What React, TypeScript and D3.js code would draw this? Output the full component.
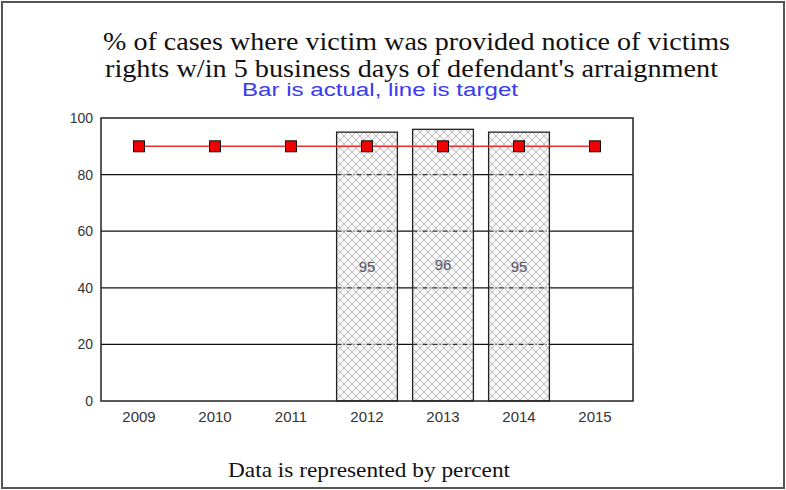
import React, { useEffect, useRef } from 'react';
import * as d3 from 'd3';

// chart data
const years = ['2009', '2010', '2011', '2012', '2013', '2014', '2015'];
const actual: (number | null)[] = [null, null, null, 95, 96, 95, null];
const target = [90, 90, 90, 90, 90, 90, 90];
const yTicks = [0, 20, 40, 60, 80, 100];

const titleLines = [
  '% of cases where victim was provided notice of victims',
  "rights w/in 5 business days of defendant's arraignment",
];
const subtitle = 'Bar is actual, line is target';
const footer = 'Data is represented by percent';

const App = () => {
  const svgRef = useRef<SVGSVGElement>(null);

  useEffect(() => {
    const svg = d3.select(svgRef.current);
    svg.selectAll('*').remove();

    const W = 786, H = 490;
    const plot = { left: 101, right: 633, top: 118, bottom: 401 };
    const sans = '"Liberation Sans", Arial, sans-serif';
    const serif = '"Liberation Serif", "Times New Roman", serif';

    // outer frame
    svg.append('rect')
      .attr('x', 2).attr('y', 2).attr('width', W - 4).attr('height', H - 4)
      .attr('fill', 'white').attr('stroke', '#555').attr('stroke-width', 2);

    // crosshatch pattern for bars
    const defs = svg.append('defs');
    const pat = defs.append('pattern')
      .attr('id', 'hatch')
      .attr('patternUnits', 'userSpaceOnUse')
      .attr('width', 8).attr('height', 8);
    pat.append('rect').attr('width', 8).attr('height', 8).attr('fill', '#f6f6f6');
    pat.append('path')
      .attr('d', 'M0,0 L8,8 M8,0 L0,8')
      .attr('stroke', '#b0b0b0').attr('stroke-width', 0.8);

    // titles (widths matched to the reference)
    const titleSpans = [
      { x0: 103, x1: 730, y: 50 },
      { x0: 105, x1: 718, y: 77 },
    ];
    svg.selectAll('text.title')
      .data(titleLines)
      .enter()
      .append('text')
      .attr('class', 'title')
      .attr('x', (d, i) => titleSpans[i].x0)
      .attr('y', (d, i) => titleSpans[i].y)
      .attr('textLength', (d, i) => titleSpans[i].x1 - titleSpans[i].x0)
      .attr('lengthAdjust', 'spacingAndGlyphs')
      .style('font-family', serif)
      .style('font-size', '26px')
      .attr('fill', '#111')
      .text(d => d);

    svg.append('text')
      .attr('x', 242).attr('y', 96)
      .attr('textLength', 276)
      .attr('lengthAdjust', 'spacingAndGlyphs')
      .style('font-family', sans)
      .style('font-size', '18px')
      .attr('fill', '#3a3af0')
      .text(subtitle);

    const x = d3.scaleBand()
      .domain(years)
      .range([plot.left, plot.right])
      .paddingInner(0.2)
      .paddingOuter(0.1);

    const y = d3.scaleLinear()
      .domain([0, 100])
      .range([plot.bottom, plot.top]);

    // gridlines
    svg.selectAll('line.grid')
      .data(yTicks.filter(t => t > 0 && t < 100))
      .enter()
      .append('line')
      .attr('class', 'grid')
      .attr('x1', plot.left).attr('x2', plot.right)
      .attr('y1', d => y(d)).attr('y2', d => y(d))
      .attr('stroke', '#111').attr('stroke-width', 1.2);

    const barData = years
      .map((yr, i) => ({ yr, v: actual[i] }))
      .filter(d => d.v != null) as { yr: string; v: number }[];

    // bars
    svg.selectAll('rect.bar')
      .data(barData)
      .enter()
      .append('rect')
      .attr('class', 'bar')
      .attr('x', d => x(d.yr)!)
      .attr('y', d => y(d.v))
      .attr('width', x.bandwidth())
      .attr('height', d => y(0) - y(d.v))
      .attr('fill', 'url(#hatch)')
      .attr('stroke', '#222').attr('stroke-width', 1.3);

    // dashed gridlines inside bars
    barData.forEach(b => {
      svg.selectAll(null)
        .data(yTicks.filter(t => t > 0 && t < b.v))
        .enter()
        .append('line')
        .attr('x1', x(b.yr)!).attr('x2', x(b.yr)! + x.bandwidth())
        .attr('y1', d => y(d)).attr('y2', d => y(d))
        .attr('stroke', '#333').attr('stroke-width', 1.2)
        .attr('stroke-dasharray', '5,2,1,2');
    });

    // bar labels
    svg.selectAll('text.blabel')
      .data(barData)
      .enter()
      .append('text')
      .attr('class', 'blabel')
      .attr('x', d => x(d.yr)! + x.bandwidth() / 2)
      .attr('y', d => (y(d.v) + y(0)) / 2 + 5)
      .attr('text-anchor', 'middle')
      .style('font-family', sans)
      .style('font-size', '15px')
      .attr('fill', '#556')
      .text(d => d.v);

    // plot border
    svg.append('rect')
      .attr('x', plot.left).attr('y', plot.top)
      .attr('width', plot.right - plot.left).attr('height', plot.bottom - plot.top)
      .attr('fill', 'none').attr('stroke', '#222').attr('stroke-width', 1.5);

    // target line
    const cx = (yr: string) => x(yr)! + x.bandwidth() / 2;
    const line = d3.line<number>()
      .x((d, i) => cx(years[i]))
      .y(d => y(d));
    svg.append('path')
      .attr('d', line(target))
      .attr('fill', 'none')
      .attr('stroke', '#f03030').attr('stroke-width', 1.5);

    svg.selectAll('rect.mark')
      .data(target)
      .enter()
      .append('rect')
      .attr('class', 'mark')
      .attr('x', (d, i) => cx(years[i]) - 5.5)
      .attr('y', d => y(d) - 5.5)
      .attr('width', 11).attr('height', 11)
      .attr('fill', '#ee0000')
      .attr('stroke', '#111').attr('stroke-width', 1);

    // axes labels
    svg.selectAll('text.ytick')
      .data(yTicks)
      .enter()
      .append('text')
      .attr('class', 'ytick')
      .attr('x', plot.left - 8)
      .attr('y', d => y(d) + 5)
      .attr('text-anchor', 'end')
      .style('font-family', sans)
      .style('font-size', '14px')
      .attr('fill', '#333')
      .text(d => d);

    svg.selectAll('text.xtick')
      .data(years)
      .enter()
      .append('text')
      .attr('class', 'xtick')
      .attr('x', d => cx(d))
      .attr('y', plot.bottom + 21)
      .attr('text-anchor', 'middle')
      .style('font-family', sans)
      .style('font-size', '15px')
      .attr('fill', '#333')
      .text(d => d);

    svg.append('text')
      .attr('x', 228).attr('y', 477)
      .attr('textLength', 282)
      .attr('lengthAdjust', 'spacingAndGlyphs')
      .style('font-family', serif)
      .style('font-size', '21px')
      .attr('fill', '#111')
      .text(footer);
  }, []);

  return (
    <svg
      ref={svgRef}
      width={786}
      height={490}
      style={{ position: 'absolute', left: 0, top: 0 }}
    />
  );
};

export default App;
